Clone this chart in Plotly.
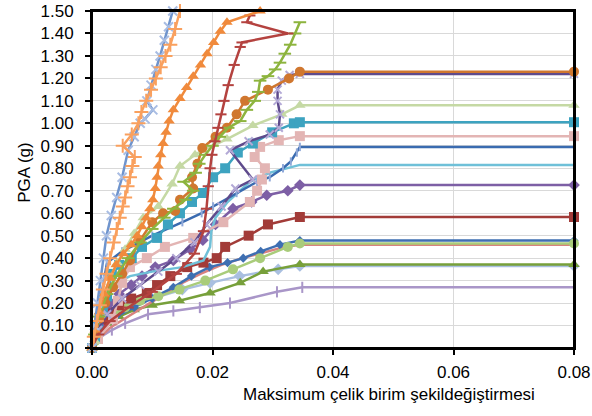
import plotly.graph_objects as go

# ---------------- data ----------------
x_tick_vals = [0.0, 0.02, 0.04, 0.06, 0.08]
x_tick_text = ["0.00", "0.02", "0.04", "0.06", "0.08"]
y_tick_vals = [0.0, 0.1, 0.2, 0.3, 0.4, 0.5, 0.6, 0.7, 0.8, 0.9, 1.0, 1.1, 1.2, 1.3, 1.4, 1.5]
y_tick_text = ["0.00", "0.10", "0.20", "0.30", "0.40", "0.50", "0.60", "0.70", "0.80", "0.90",
               "1.00", "1.10", "1.20", "1.30", "1.40", "1.50"]

s01_x = [0, 0.0004, 0.0009, 0.0014, 0.0019, 0.0024, 0.0032, 0.0041, 0.005, 0.006, 0.007, 0.008, 0.0088, 0.0101, 0.0091, 0.0098, 0.0106, 0.0113, 0.012, 0.0127, 0.0134]
s01_y = [0, 0.1, 0.2, 0.3, 0.4, 0.5, 0.59, 0.67, 0.76, 0.88, 0.94, 1.0, 1.02, 1.06, 1.1, 1.17, 1.24, 1.3, 1.37, 1.43, 1.5]

s02_x = [0, 0.0003, 0.0008, 0.0013, 0.0018, 0.0024, 0.003, 0.0036, 0.0041, 0.0046, 0.0051, 0.0055, 0.0059, 0.0063, 0.0067, 0.0071, 0.0051, 0.0066, 0.0077, 0.0082, 0.009, 0.0098, 0.0106, 0.0114, 0.0122, 0.013, 0.0138, 0.0146]
s02_y = [0, 0.05, 0.12, 0.19, 0.26, 0.33, 0.4, 0.47, 0.53, 0.58, 0.63, 0.67, 0.72, 0.76, 0.81, 0.85, 0.9, 0.95, 1.0, 1.05, 1.1, 1.15, 1.2, 1.25, 1.3, 1.35, 1.42, 1.5]

s03_x = [0, 0.0005, 0.0012, 0.002, 0.003, 0.004, 0.0052, 0.0065, 0.0075, 0.0083, 0.009, 0.0096, 0.0101, 0.0105, 0.0108, 0.011, 0.0114, 0.0118, 0.0123, 0.0128, 0.0135, 0.0146, 0.0157, 0.0168, 0.018, 0.0191, 0.0202, 0.0213, 0.0224, 0.0279]
s03_y = [0, 0.08, 0.16, 0.24, 0.31, 0.37, 0.42, 0.46, 0.5, 0.54, 0.58, 0.62, 0.66, 0.71, 0.76, 0.81, 0.86, 0.91, 0.96, 1.01, 1.06, 1.11, 1.16, 1.21, 1.26, 1.31, 1.36, 1.41, 1.45, 1.5]

s04_x = [0, 0.001, 0.003, 0.006, 0.01, 0.014, 0.017, 0.0185, 0.019, 0.0193, 0.0196, 0.0199, 0.0204, 0.0209, 0.0214, 0.0219, 0.0226, 0.0236, 0.0246, 0.0249, 0.0325, 0.0257, 0.0262]
s04_y = [0, 0.06, 0.12, 0.18, 0.25, 0.33, 0.42, 0.52, 0.62, 0.72, 0.8, 0.86, 0.92, 0.98, 1.04, 1.1, 1.17, 1.26, 1.34, 1.36, 1.40, 1.45, 1.48]

s05_x = [0, 0.0004, 0.0012, 0.0025, 0.004, 0.006, 0.008, 0.01, 0.012, 0.0135, 0.0155, 0.0168, 0.0152, 0.0172, 0.0178, 0.0188, 0.02, 0.0212, 0.0226, 0.0246, 0.0257, 0.027, 0.0276, 0.0279, 0.0292, 0.0304, 0.0312, 0.032, 0.0329, 0.0337, 0.0345]
s05_y = [0, 0.06, 0.14, 0.24, 0.32, 0.4, 0.47, 0.53, 0.58, 0.62, 0.66, 0.7, 0.74, 0.78, 0.82, 0.86, 0.9, 0.94, 0.98, 1.01, 1.06, 1.1, 1.14, 1.19, 1.21, 1.24, 1.27, 1.31, 1.35, 1.4, 1.45]

s06_x = [0, 0.0005, 0.0012, 0.0022, 0.0035, 0.005, 0.0063, 0.008, 0.01, 0.0118, 0.0138, 0.0146, 0.0168, 0.0166, 0.0175, 0.0183, 0.0205, 0.0224, 0.024, 0.0254, 0.0292, 0.0327, 0.0345, 0.08]
s06_y = [0, 0.06, 0.13, 0.2, 0.27, 0.33, 0.39, 0.48, 0.56, 0.6, 0.61, 0.66, 0.71, 0.76, 0.82, 0.89, 0.94, 0.98, 1.04, 1.1, 1.15, 1.2, 1.23, 1.23]

s07_x = [0, 0.001, 0.0025, 0.005, 0.008, 0.011, 0.014, 0.017, 0.019, 0.0215, 0.0238, 0.0267, 0.0229, 0.026, 0.0295, 0.031, 0.0312, 0.0308, 0.0308, 0.0315, 0.0328, 0.0345, 0.08]
s07_y = [0, 0.08, 0.15, 0.22, 0.28, 0.34, 0.4, 0.47, 0.55, 0.63, 0.71, 0.75, 0.88, 0.92, 0.95, 0.98, 1.04, 1.1, 1.15, 1.19, 1.215, 1.22, 1.22]

s08_x = [0, 0.0005, 0.0013, 0.002, 0.003, 0.0042, 0.0055, 0.007, 0.0085, 0.011, 0.0133, 0.0146, 0.0171, 0.0184, 0.0224, 0.0267, 0.0315, 0.0345, 0.08]
s08_y = [0, 0.03, 0.16, 0.24, 0.31, 0.38, 0.44, 0.51, 0.58, 0.63, 0.73, 0.81, 0.86, 0.88, 0.93, 0.99, 1.04, 1.08, 1.08]

s09_x = [0, 0.0005, 0.001, 0.0018, 0.0025, 0.0033, 0.0045, 0.0066, 0.0083, 0.0108, 0.0126, 0.0146, 0.0166, 0.0184, 0.0201, 0.0221, 0.0242, 0.0267, 0.0299, 0.0335, 0.0345, 0.08]
s09_y = [0, 0.05, 0.1, 0.16, 0.23, 0.33, 0.37, 0.4, 0.45, 0.49, 0.55, 0.6, 0.65, 0.69, 0.76, 0.8, 0.87, 0.91, 0.96, 1.0, 1.005, 1.005]

s10_x = [0, 0.001, 0.0035, 0.0043, 0.005, 0.0063, 0.0091, 0.0121, 0.0168, 0.0218, 0.0262, 0.0274, 0.0282, 0.0287, 0.027, 0.0279, 0.031, 0.0345, 0.08]
s10_y = [0, 0.04, 0.13, 0.21, 0.29, 0.36, 0.4, 0.45, 0.49, 0.56, 0.65, 0.7, 0.75, 0.8, 0.85, 0.895, 0.925, 0.943, 0.943]

s11_x = [0, 0.0005, 0.001, 0.0015, 0.002, 0.0025, 0.005, 0.01, 0.015, 0.0182, 0.0201, 0.024, 0.0274, 0.0295, 0.0317, 0.033, 0.034, 0.0345, 0.08]
s11_y = [0, 0.08, 0.16, 0.24, 0.31, 0.38, 0.43, 0.5, 0.56, 0.6, 0.63, 0.69, 0.74, 0.76, 0.8, 0.83, 0.87, 0.895, 0.895]

s12_x = [0, 0.0005, 0.001, 0.002, 0.0035, 0.0063, 0.01, 0.015, 0.0185, 0.0196, 0.0198, 0.0205, 0.0225, 0.0262, 0.0295, 0.0325, 0.0345, 0.08]
s12_y = [0, 0.06, 0.14, 0.22, 0.28, 0.32, 0.34, 0.36, 0.39, 0.45, 0.52, 0.58, 0.65, 0.74, 0.78, 0.8, 0.815, 0.815]

s13_x = [0, 0.0005, 0.0012, 0.002, 0.003, 0.0045, 0.0065, 0.0083, 0.0105, 0.0135, 0.0163, 0.0184, 0.0205, 0.0234, 0.0265, 0.029, 0.0325, 0.0345, 0.08]
s13_y = [0, 0.05, 0.1, 0.15, 0.2, 0.24, 0.28, 0.32, 0.36, 0.39, 0.44, 0.48, 0.55, 0.62, 0.65, 0.68, 0.7, 0.725, 0.725]

s14_x = [0, 0.0005, 0.0012, 0.002, 0.003, 0.0045, 0.0065, 0.0091, 0.0108, 0.013, 0.0158, 0.0185, 0.0207, 0.0221, 0.026, 0.0292, 0.0345, 0.08]
s14_y = [0, 0.04, 0.08, 0.12, 0.16, 0.19, 0.22, 0.245, 0.28, 0.32, 0.36, 0.38, 0.4, 0.45, 0.5, 0.55, 0.583, 0.583]

s15_x = [0, 0.001, 0.002, 0.004, 0.007, 0.01, 0.0135, 0.0165, 0.0195, 0.0225, 0.0251, 0.028, 0.0312, 0.0345, 0.08]
s15_y = [0, 0.05, 0.1, 0.14, 0.18, 0.22, 0.27, 0.32, 0.36, 0.38, 0.4, 0.43, 0.46, 0.478, 0.478]

s16_x = [0, 0.001, 0.003, 0.006, 0.009, 0.012, 0.015, 0.018, 0.0215, 0.025, 0.029, 0.032, 0.0345, 0.08]
s16_y = [0, 0.04, 0.09, 0.14, 0.19, 0.24, 0.29, 0.33, 0.37, 0.4, 0.43, 0.45, 0.46, 0.46]

s17_x = [0, 0.0005, 0.0012, 0.002, 0.0035, 0.0055, 0.008, 0.011, 0.0145, 0.0188, 0.0234, 0.0279, 0.0325, 0.0345, 0.08]
s17_y = [0, 0.03, 0.07, 0.11, 0.15, 0.18, 0.21, 0.23, 0.26, 0.3, 0.35, 0.4, 0.45, 0.465, 0.465]

s18_x = [0, 0.0005, 0.0012, 0.0025, 0.0045, 0.007, 0.01, 0.0145, 0.0196, 0.0246, 0.0284, 0.0345, 0.08]
s18_y = [0, 0.03, 0.07, 0.11, 0.14, 0.17, 0.19, 0.21, 0.245, 0.29, 0.34, 0.372, 0.372]

s19_x = [0, 0.0005, 0.0012, 0.002, 0.0035, 0.006, 0.01, 0.015, 0.0196, 0.0245, 0.0309, 0.0345, 0.08]
s19_y = [0, 0.03, 0.06, 0.1, 0.14, 0.18, 0.22, 0.26, 0.29, 0.32, 0.35, 0.365, 0.365]

s20_x = [0, 0.0005, 0.0015, 0.0033, 0.0055, 0.0093, 0.0135, 0.0179, 0.0229, 0.0307, 0.0349, 0.08]
s20_y = [0, 0.02, 0.05, 0.08, 0.11, 0.15, 0.165, 0.18, 0.2, 0.25, 0.27, 0.27]

x_title = "Maksimum çelik birim şekildeğiştirmesi"
y_title = "PGA (g)"

# ---------------- styles ----------------
series = [
    (s20_x, s20_y, "#A996C8", "line-ns", 8, "#A996C8"),
    (s19_x, s19_y, "#A9BFE0", "diamond", 9, None),
    (s18_x, s18_y, "#77A03A", "triangle-up", 10, None),
    (s16_x, s16_y, "#D8827F", None, 0, None),
    (s15_x, s15_y, "#3E6FB2", "diamond", 7, None),
    (s17_x, s17_y, "#A9CC7A", "circle", 10, None),
    (s14_x, s14_y, "#A23B38", "square", 10, None),
    (s13_x, s13_y, "#7D5FA5", "diamond", 9, None),
    (s12_x, s12_y, "#6FC0D8", None, 0, None),
    (s11_x, s11_y, "#3A6BB0", "line-ns", 6, "#8FA8D8"),
    (s10_x, s10_y, "#E3B5B4", "square", 10, None),
    (s09_x, s09_y, "#3DA3C0", "square", 10, None),
    (s08_x, s08_y, "#C5D9A4", "triangle-up", 10, None),
    (s07_x, s07_y, "#5E4A8C", "x-thin", 8, "#B3A9D6"),
    (s06_x, s06_y, "#D0772F", "circle", 10, None),
    (s05_x, s05_y, "#8DB43E", "line-ew", 9, "#8DB43E"),
    (s04_x, s04_y, "#B4423F", "line-ew", 8, "#B4423F"),
    (s03_x, s03_y, "#F08A3C", "triangle-up", 10, None),
    (s01_x, s01_y, "#6F94CD", "x-thin", 9, "#A9BDE3"),
    (s02_x, s02_y, "#F9A05E", "cross-thin", 10, "#F9A05E"),
]

fig = go.Figure()
for xs, ys, col, sym, size, lcol in series:
    if sym is None:
        fig.add_trace(go.Scatter(x=xs, y=ys, mode="lines",
                                 line=dict(color=col, width=2.5), cliponaxis=False,
                                 hoverinfo="skip"))
    else:
        mk = dict(symbol=sym, size=size, color=col)
        if lcol is not None:
            mk["line"] = dict(color=lcol, width=2)
        else:
            mk["line"] = dict(width=0)
        fig.add_trace(go.Scatter(x=xs, y=ys, mode="lines+markers",
                                 line=dict(color=col, width=2.5), marker=mk,
                                 cliponaxis=False, hoverinfo="skip"))

axis_common = dict(showgrid=True, gridcolor="#D9D9D9", gridwidth=1, zeroline=False,
                   showline=True, linecolor="black", linewidth=2, mirror=True,
                   ticks="outside", ticklen=5, tickwidth=2, tickcolor="black",
                   automargin=False, ticklabeloverflow="allow",
                   tickfont=dict(size=17, color="black"))

fig.update_xaxes(range=[0, 0.08], tickvals=x_tick_vals, ticktext=x_tick_text,
                 ticklabelstandoff=3, **axis_common)
fig.update_yaxes(range=[0, 1.5], tickvals=y_tick_vals, ticktext=y_tick_text,
                 ticklabelstandoff=8, **axis_common)

fig.update_layout(
    width=592, height=416,
    margin=dict(l=92, r=18, t=11, b=68, autoexpand=False),
    plot_bgcolor="white", paper_bgcolor="white",
    showlegend=False,
    font=dict(family="Liberation Sans, Arial, sans-serif", size=17, color="black"),
    shapes=[dict(type="rect", xref="paper", yref="paper", x0=0, x1=1, y0=0, y1=1,
                 line=dict(color="black", width=2), fillcolor="rgba(0,0,0,0)",
                 layer="above")],
    annotations=[
        dict(text=x_title, xref="paper", yref="paper", x=0.616, y=-0.139,
             xanchor="center", yanchor="middle", showarrow=False,
             font=dict(size=17, color="black")),
        dict(text=y_title, xref="paper", yref="paper", x=-0.139, y=0.52,
             xanchor="center", yanchor="middle", textangle=-90, showarrow=False,
             font=dict(size=17, color="black")),
    ],
)

# remove the page's default body margin so the 592x416 figure fills the window
fig.write_html("out.html", config={"displayModeBar": False},
               post_script="document.body.style.margin='0';document.body.style.overflow='hidden';")
